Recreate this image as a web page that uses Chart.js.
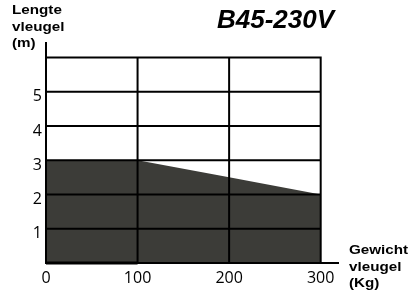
<!DOCTYPE html>
<html>
<head>
<meta charset="utf-8">
<script src="https://cdn.jsdelivr.net/npm/chart.js@4.4.1/dist/chart.umd.min.js"></script>
<style>
  html, body { margin: 0; padding: 0; background: #fff; }
  canvas { display: block; }
</style>
</head>
<body>
<canvas id="chart" width="417" height="295"></canvas>
<script>
// data
const weights = [0, 100, 200, 300];          // Gewicht vleugel (Kg)
const lengths = [3, 3, 2.5, 2];              // Lengte vleugel (m)
const xTickLabels = [0, 100, 200, 300];
const yTickLabels = [1, 2, 3, 4, 5];
const gridRows = [1, 2, 3, 4, 5, 6];
const gridCols = [100, 200, 300];
const xMax = 320;
const yMax = 6.45;

const title = 'B45-230V';
const yTitle = ['Lengte', 'vleugel', '(m)'];
const xTitle = ['Gewicht', 'vleugel', '(Kg)'];

const fillColor = '#3c3c38';
const tickFont = { family: 'Open Sans', size: 16 };

// grid only covers 0..300 x 0..6, drawn on top of the fill, plus the two axis lines
const gridPlugin = {
    id: 'gridOnTop',
    afterDraw(chart) {
        const { ctx, scales: { x, y } } = chart;
        ctx.save();
        ctx.strokeStyle = '#000';
        ctx.lineWidth = 2;
        ctx.beginPath();
        gridRows.forEach(v => {
            const py = y.getPixelForValue(v);
            ctx.moveTo(x.getPixelForValue(0), py);
            ctx.lineTo(x.getPixelForValue(300), py);
        });
        gridCols.forEach(v => {
            const px = x.getPixelForValue(v);
            ctx.moveTo(px, y.getPixelForValue(0));
            ctx.lineTo(px, y.getPixelForValue(6) - 1);
        });
        ctx.stroke();
        // axes
        const x0 = x.getPixelForValue(0), y0 = y.getPixelForValue(0);
        ctx.beginPath();
        ctx.moveTo(x0, y0);
        ctx.lineTo(x.getPixelForValue(xMax), y0);
        ctx.moveTo(x0, y0 + 1);
        ctx.lineTo(x0, y.getPixelForValue(yMax));
        ctx.stroke();
        // bottom edge under the first column is a bit heavier
        ctx.lineWidth = 3;
        ctx.beginPath();
        ctx.moveTo(x0, y0);
        ctx.lineTo(x.getPixelForValue(100), y0);
        ctx.stroke();
        ctx.restore();
    }
};

const textPlugin = {
    id: 'texts',
    afterDraw(chart) {
        const ctx = chart.ctx;
        ctx.save();
        ctx.fillStyle = '#000';
        ctx.textAlign = 'left';
        ctx.textBaseline = 'alphabetic';
        ctx.font = 'italic bold 26px "Liberation Sans", Arial, sans-serif';
        ctx.fillText(title, 217, 28);
        // axis titles use a wide bold face, stretch Arial a bit
        ctx.font = 'bold 13px "Liberation Sans", Arial, sans-serif';
        const drawLines = (lines, left, base) => {
            lines.forEach((t, i) => {
                ctx.save();
                ctx.translate(left, base + i * 16.5);
                ctx.scale(1.17, 1);
                ctx.fillText(t, 0, 0);
                ctx.restore();
            });
        };
        drawLines(yTitle, 12, 14);
        drawLines(xTitle, 349, 254);
        ctx.restore();
    }
};

new Chart(document.getElementById('chart'), {
    type: 'line',
    data: {
        datasets: [{
            data: weights.map((w, i) => ({ x: w, y: lengths[i] })),
            fill: 'origin',
            backgroundColor: fillColor,
            borderWidth: 0,
            pointRadius: 0,
            tension: 0
        }]
    },
    options: {
        responsive: false,
        animation: false,
        layout: { padding: { top: 42, right: 78, left: 0, bottom: 0 } },
        plugins: { legend: { display: false }, tooltip: { enabled: false } },
        scales: {
            x: {
                type: 'linear',
                min: 0,
                max: xMax,
                afterFit: s => { s.height = 32; },
                afterBuildTicks: s => { s.ticks = xTickLabels.map(v => ({ value: v })); },
                grid: { display: false, drawTicks: false },
                border: { display: false },
                ticks: { color: '#000', font: tickFont, padding: 6, maxRotation: 0, autoSkip: false }
            },
            y: {
                min: 0,
                max: yMax,
                afterFit: s => { s.width = 46; },
                afterBuildTicks: s => { s.ticks = yTickLabels.map(v => ({ value: v })); },
                grid: { display: false, drawTicks: false },
                border: { display: false },
                ticks: { color: '#000', font: tickFont, padding: 4, labelOffset: 5, autoSkip: false }
            }
        }
    },
    plugins: [gridPlugin, textPlugin]
});
</script>
</body>
</html>
